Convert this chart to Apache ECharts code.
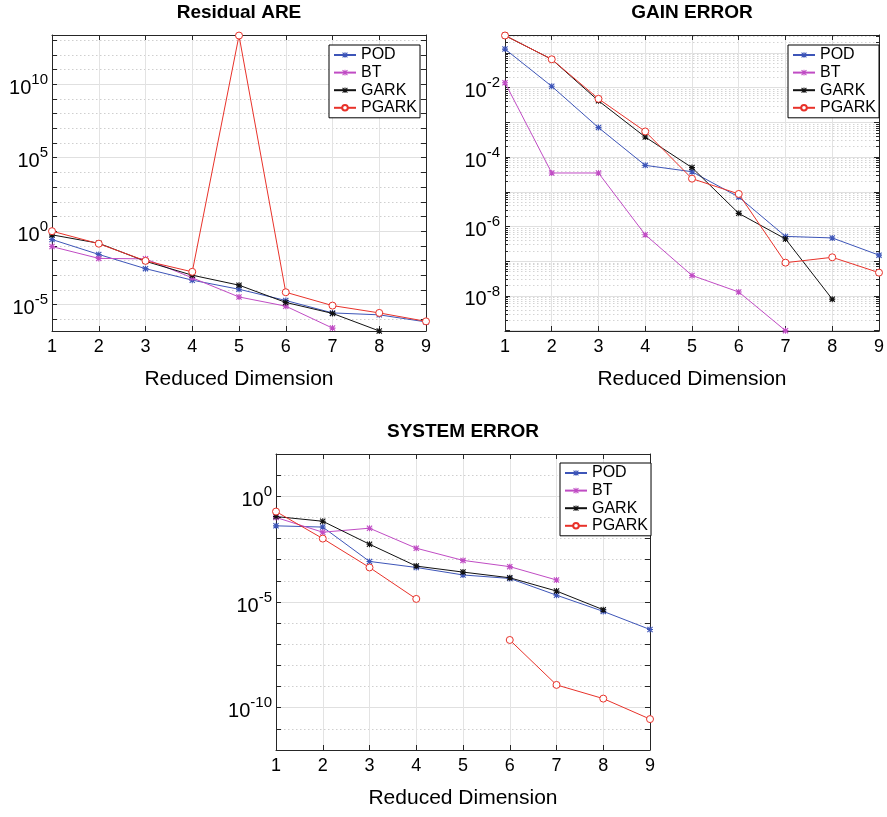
<!DOCTYPE html>
<html>
<head>
<meta charset="utf-8">
<script src="https://cdn.jsdelivr.net/npm/echarts@6/dist/echarts.min.js"></script>
<style>
  html, body { margin: 0; padding: 0; background: #fff; }
  #main { width: 887px; height: 817px; }
</style>
</head>
<body>
<div id="main"></div>
<script>
var dims = [1, 2, 3, 4, 5, 6, 7, 8, 9];
var names = ['POD', 'BT', 'GARK', 'PGARK'];

// Residual ARE
var areP = [2.7e-1, 2.6e-2, 2.8e-3, 4.6e-4, 1.1e-4, 1.9e-5, 2.7e-6, 2.0e-6, 6.6e-7];
var areB = [8.9e-2, 1.4e-2, 1.3e-2, 6.6e-4, 3.3e-5, 7.8e-6, 2.5e-7];
var areG = [5.6e-1, 1.5e-1, 8.9e-3, 1.0e-3, 2.1e-4, 1.4e-5, 2.5e-6, 1.6e-7];
var areR = [1.0, 1.4e-1, 9.5e-3, 1.7e-3, 2.1e13, 6.9e-5, 8.5e-6, 2.7e-6, 7.2e-7];

// GAIN ERROR
var gainP = [1.3e-1, 1.1e-2, 7.1e-4, 5.8e-5, 3.8e-5, 7.1e-6, 5.2e-7, 4.7e-7, 1.5e-7];
var gainB = [1.4e-2, 3.5e-5, 3.5e-5, 5.8e-7, 3.9e-8, 1.3e-8, 1.0e-9];
var gainG = [3.2e-1, 6.6e-2, 4.2e-3, 3.8e-4, 5.0e-5, 2.4e-6, 4.4e-7, 8.1e-9];
var gainR = [3.2e-1, 6.6e-2, 4.8e-3, 5.5e-4, 2.4e-5, 8.7e-6, 9.1e-8, 1.3e-7, 4.7e-8];

// SYSTEM ERROR
var sysP = [4.0e-2, 3.5e-2, 8.3e-4, 4.3e-4, 1.9e-4, 1.3e-4, 2.1e-5, 3.6e-6, 5.0e-7];
var sysB = [1.0e-1, 2.0e-2, 3.1e-2, 3.5e-3, 9.3e-4, 4.7e-4, 1.1e-4];
var sysG = [1.1e-1, 6.6e-2, 5.4e-3, 5.0e-4, 2.6e-4, 1.4e-4, 3.3e-5, 4.3e-6];
var sysR = [1.9e-1, 1.0e-2, 4.3e-4, 1.4e-5, null, 1.6e-7, 1.2e-9, 2.7e-10, 2.9e-11];

// decade labels (exponents)
var areLabels = [-5, 0, 5, 10];
var gainLabels = [-8, -6, -4, -2];
var sysLabels = [-10, -5, 0];

var colors = ['#3d55b8', '#c04cc4', '#111111', '#e8322a'];
var star = 'path://M4.1,0L5.9,0L5.9,10L4.1,10Z M0,4.1L10,4.1L10,5.9L0,5.9Z M0,1.3L1.3,0L10,8.7L8.7,10Z M8.7,0L10,1.3L1.3,10L0,8.7Z';
var axisColor = '#262626';
var font = 'Liberation Sans, Arial, Helvetica, sans-serif';

function range(a, b) {
  var r = [];
  for (var i = a; i <= b; i++) r.push(i);
  return r;
}
function minors(a, b, lo, hi) {
  var r = [];
  for (var n = a; n <= b; n++) {
    for (var k = 2; k <= 9; k++) {
      var v = n + Math.log10(k);
      if (v > lo && v < hi) r.push(v);
    }
  }
  return r;
}

var grids = [
  { left: 52, top: 35, width: 374, height: 296 },
  { left: 505, top: 35, width: 374, height: 296 },
  { left: 276, top: 454, width: 374, height: 296 }
];
var titles = ['Residual ARE', 'GAIN ERROR', 'SYSTEM ERROR'];
var ext = [[-6.8, 13.36], [-9.01, -0.48], [-12, 2]];

var xAxes = [];
grids.forEach(function (g, i) {
  xAxes.push({
    gridIndex: i, type: 'value', min: 1, max: 9, interval: 1, position: 'bottom',
    name: 'Reduced Dimension', nameLocation: 'middle', nameGap: 38,
    nameTextStyle: { fontSize: 21, color: '#000', fontFamily: font },
    axisLine: { onZero: false, lineStyle: { color: axisColor, width: 1 } },
    axisTick: { inside: true, length: 5, lineStyle: { color: axisColor } },
    axisLabel: { fontSize: 18, color: '#000', margin: 7, fontFamily: font },
    splitLine: { show: true, lineStyle: { color: '#e3e3e3', width: 1 } }
  });
  xAxes.push({
    gridIndex: i, type: 'value', min: 1, max: 9, interval: 1, position: 'top',
    name: titles[i], nameLocation: 'middle', nameGap: 13,
    nameTextStyle: { fontSize: 19, fontWeight: 'bold', color: '#000', fontFamily: font },
    axisLine: { onZero: false, lineStyle: { color: axisColor, width: 1 } },
    axisTick: { inside: true, length: 5, lineStyle: { color: axisColor } },
    axisLabel: { show: false },
    splitLine: { show: false }
  });
});

var labelRich = {
  b: { fontSize: 20, color: '#000', fontFamily: font, padding: [8, 0, 0, 0] },
  s: { fontSize: 15, color: '#000', fontFamily: font, padding: [0, 0, 9, 0] }
};
function expFmt(v) {
  return '{b|10}{s|' + Math.round(v) + '}';
}

var yAxes = [];
var mainY = [];
function yBase(i, e) {
  return { gridIndex: i, type: 'value', min: e[0], max: e[1] };
}
function addY(o) {
  yAxes.push(o);
  return yAxes.length - 1;
}

// panels 1 and 3: dotted every decade, solid at labelled decades
[[0, areLabels], [2, sysLabels]].forEach(function (p) {
  var i = p[0], e = ext[i];
  var decades = range(Math.ceil(e[0]), Math.floor(e[1]));
  mainY[i] = addY(Object.assign(yBase(i, e), {
    position: 'left',
    axisLine: { show: true, onZero: false, lineStyle: { color: axisColor, width: 1 } },
    axisTick: { show: true, inside: true, length: 5, customValues: decades, lineStyle: { color: axisColor } },
    axisLabel: { customValues: p[1], formatter: expFmt, rich: labelRich, margin: 4 },
    splitLine: { show: true, lineStyle: { color: '#cfcfcf', type: [1.5, 2.5] } }
  }));
  addY(Object.assign(yBase(i, e), {
    position: 'left',
    axisLine: { show: false, onZero: false },
    axisTick: { show: false, customValues: p[1] },
    axisLabel: { show: false },
    splitLine: { show: true, lineStyle: { color: '#e0e0e0', width: 1 } }
  }));
  addY(Object.assign(yBase(i, e), {
    position: 'right',
    axisLine: { show: true, onZero: false, lineStyle: { color: axisColor, width: 1 } },
    axisTick: { show: true, inside: true, length: 5, customValues: decades, lineStyle: { color: axisColor } },
    axisLabel: { show: false },
    splitLine: { show: false }
  }));
});

// panel 2: solid every decade, dotted minor grid
(function () {
  var i = 1, e = ext[i];
  var decades = range(Math.ceil(e[0]), Math.floor(e[1]));
  var mins = minors(Math.floor(e[0]), Math.floor(e[1]), e[0], e[1]);
  mainY[i] = addY(Object.assign(yBase(i, e), {
    position: 'left',
    axisLine: { show: true, onZero: false, lineStyle: { color: axisColor, width: 1 } },
    axisTick: { show: true, inside: true, length: 5, customValues: decades, lineStyle: { color: axisColor } },
    axisLabel: { customValues: gainLabels, formatter: expFmt, rich: labelRich, margin: 5 },
    splitLine: { show: true, lineStyle: { color: '#e0e0e0', width: 1 } }
  }));
  addY(Object.assign(yBase(i, e), {
    position: 'left',
    axisLine: { show: false, onZero: false },
    axisTick: { show: true, inside: true, length: 3, customValues: mins, lineStyle: { color: axisColor } },
    axisLabel: { show: false },
    splitLine: { show: true, lineStyle: { color: '#d4d4d4', type: [1.5, 2.5] } }
  }));
  addY(Object.assign(yBase(i, e), {
    position: 'right',
    axisLine: { show: true, onZero: false, lineStyle: { color: axisColor, width: 1 } },
    axisTick: { show: true, inside: true, length: 5, customValues: decades, lineStyle: { color: axisColor } },
    axisLabel: { show: false },
    splitLine: { show: false }
  }));
  addY(Object.assign(yBase(i, e), {
    position: 'right',
    axisLine: { show: false, onZero: false },
    axisTick: { show: true, inside: true, length: 3, customValues: mins, lineStyle: { color: axisColor } },
    axisLabel: { show: false },
    splitLine: { show: false }
  }));
})();

function toPoints(vals) {
  return vals.map(function (v, k) {
    return v == null ? [dims[k], '-'] : [dims[k], Math.log10(v)];
  });
}

var panels = [[areP, areB, areG, areR], [gainP, gainB, gainG, gainR], [sysP, sysB, sysG, sysR]];
var series = [];
panels.forEach(function (sets, i) {
  sets.forEach(function (vals, j) {
    var isCircle = j === 3;
    series.push({
      name: names[j], type: 'line',
      xAxisIndex: i * 2, yAxisIndex: mainY[i],
      data: toPoints(vals),
      connectNulls: false,
      symbol: isCircle ? 'circle' : star,
      symbolSize: isCircle ? 7 : 6,
      showAllSymbol: true,
      lineStyle: { color: colors[j], width: 1 },
      itemStyle: isCircle ? { color: '#fff', borderColor: colors[j], borderWidth: 1 } : { color: colors[j] },
      emphasis: { disabled: true },
      animation: false,
      z: 3 + j
    });
  });
});

var legendPos = [[329, 45], [788, 45], [560, 463]];
var legends = legendPos.map(function (p) {
  return {
    data: names, orient: 'vertical', left: p[0], top: p[1],
    backgroundColor: '#fff', borderColor: '#000', borderWidth: 1,
    padding: [2, 3, 2, 4], itemGap: 1.6, itemWidth: 22, itemHeight: 7,
    textStyle: { fontSize: 16, color: '#000', lineHeight: 14, fontFamily: font },
    selectedMode: false
  };
});

var chart = echarts.init(document.getElementById('main'), null, { renderer: 'canvas' });
chart.setOption({
  animation: false,
  backgroundColor: '#fff',
  textStyle: { fontFamily: font },
  grid: grids,
  xAxis: xAxes,
  yAxis: yAxes,
  legend: legends,
  series: series
});
</script>
</body>
</html>
